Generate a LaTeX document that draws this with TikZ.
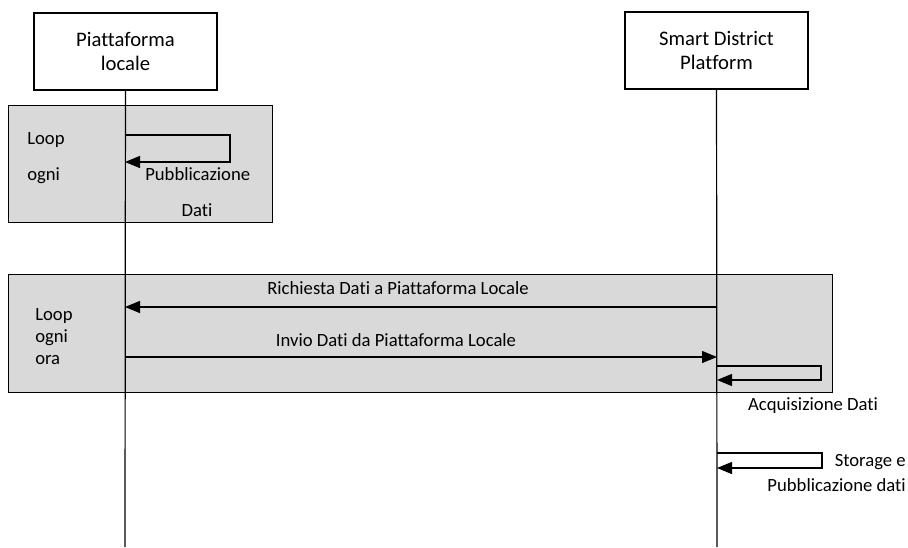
\documentclass[tikz,border=0pt]{standalone}
\usepackage{fontspec}
\setmainfont{Carlito}[Ligatures=NoCommon]
\usetikzlibrary{arrows.meta}

\newlength{\du}
\setlength{\du}{0.75pt}

\definecolor{loopgray}{rgb}{0.850000, 0.850000, 0.850000}

\tikzset{
  headbox/.style={draw, line width=2\du, fill=white, minimum width=183\du,
    minimum height=77\du, align=center, font=\fontsize{15.5}{18}\selectfont},
  loopbox/.style={draw, line width=1\du, fill=loopgray},
  lifeline/.style={line width=1.2\du},
  msg/.style={line width=1.2\du, -{Triangle[length=11.25pt,width=9pt]}},
  lbl/.style={inner sep=0pt, font=\fontsize{14}{16}\selectfont}
}

\begin{document}
\begin{tikzpicture}[x=\du,y=-\du]
\useasboundingbox (0,0) rectangle (908,547);
% loop frames
\draw[loopbox] (8,105) rectangle (272,222);
\draw[loopbox] (8,274) rectangle (832,392);
% participants
\node[headbox] (pl) at (125.5,51.5) {Piattaforma\\locale};
\node[headbox] (sdp) at (716.5,50) {Smart District\\Platform};
\coordinate (plend) at (125,547);
\coordinate (sdpend) at (717,547);
\draw[lifeline] (pl) -- (plend);
\draw[lifeline] (sdp) -- (sdpend);
% loop ogni
\node[lbl, anchor=west] (loop1a) at (27,140) {Loop};
\node[lbl, anchor=west] (loop1b) at (27,176) {ogni};
\coordinate (pub1) at (125,135);
\coordinate (pub2) at (125,162);
\draw[msg] (pub1) -- (230,135) -- (230,162) -- (pub2);
\node[lbl, anchor=west] (publbl) at (145,174) {Pubblicazione};
\node[lbl] (datilbl) at (197,210) {Dati};
% loop ogni ora
\node[lbl, anchor=west] (loop2a) at (35,316) {Loop};
\node[lbl, anchor=west] (loop2b) at (35,338) {ogni};
\node[lbl, anchor=west] (loop2c) at (35,360) {ora};
\coordinate (ric1) at (717,307);
\coordinate (ric2) at (125,307);
\draw[msg] (ric1) -- (ric2);
\node[lbl] (riclbl) at (398,288) {Richiesta Dati a Piattaforma Locale};
\coordinate (inv1) at (125,357);
\coordinate (inv2) at (717,357);
\draw[msg] (inv1) -- (inv2);
\node[lbl] (invlbl) at (396,340) {Invio Dati da Piattaforma Locale};
\coordinate (acq1) at (717,366);
\coordinate (acq2) at (717,380);
\draw[msg] (acq1) -- (821,366) -- (821,380) -- (acq2);
\node[lbl] (acqlbl) at (813,406) {Acquisizione Dati};
% storage
\coordinate (sto1) at (717,453);
\coordinate (sto2) at (717,468);
\draw[msg] (sto1) -- (822,453) -- (822,468) -- (sto2);
\node[lbl, anchor=east] (stolbl) at (906,462) {Storage e};
\node[lbl, anchor=east] (stolbl2) at (906,485) {Pubblicazione dati};
\end{tikzpicture}
\end{document}
